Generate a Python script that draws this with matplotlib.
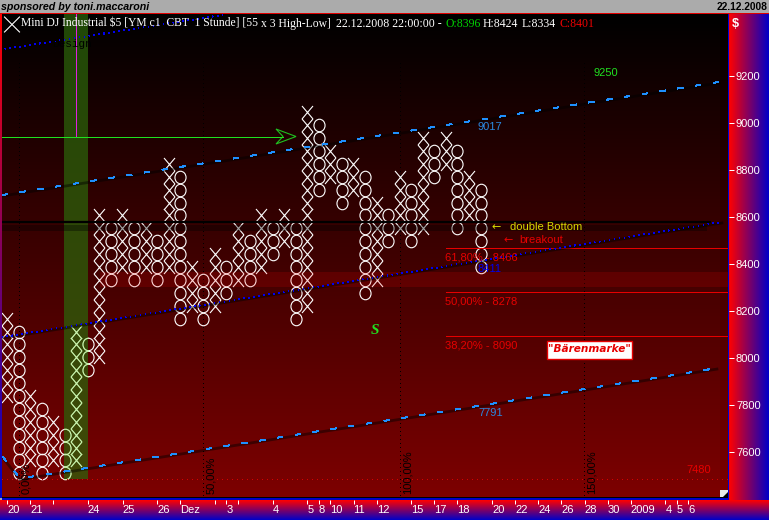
import numpy as np
import matplotlib
matplotlib.use('Agg')
import matplotlib.pyplot as plt
from matplotlib.colors import LinearSegmentedColormap
from matplotlib.patches import Rectangle, Polygon
from matplotlib.path import Path
from matplotlib.transforms import Affine2D

# point & figure columns, X and O take turns, prices are box centres
first_is_x = True
col_low = [7833, 7503, 7558, 7503, 7558, 7503, 7558, 7943, 7998, 8328, 8383, 8328, 8383, 8328,
           8383, 8163, 8218, 8163, 8218, 8273, 8328, 8328, 8383, 8438, 8493, 8163, 8218, 8713,
           8768, 8658, 8713, 8273, 8328, 8493, 8548, 8493, 8548, 8768, 8823, 8548, 8603, 8383]
col_high = [8163, 8108, 7833, 7778, 7723, 7668, 8108, 8053, 8603, 8548, 8603, 8548, 8548, 8493,
            8823, 8768, 8383, 8328, 8438, 8383, 8548, 8493, 8603, 8548, 8603, 8548, 9043, 8988,
            8878, 8823, 8823, 8768, 8658, 8603, 8768, 8713, 8933, 8878, 8933, 8878, 8768, 8713]
box_size = 55

price_ticks = [7600, 7800, 8000, 8200, 8400, 8600, 8800, 9000, 9200]
date_cols = [0, 2, 4, 7, 10, 13, 15, 18, 19, 20, 23, 26, 27, 28, 30, 32, 35, 37, 39, 42, 44, 46, 48,
             50, 52, 54, 57, 58, 59]
date_labels = ['20', '21', '', '24', '25', '26', 'Dez', '', '3', '', '4', '5', '8', '10', '11', '12',
               '15', '17', '18', '20', '22', '24', '26', '28', '30', '2009', '4', '5', '6']

# trend lines as [col, col], [price, price]
upper_x, upper_y = [-0.43, 61.65], [8690, 9172]
lower_x, lower_y = [-0.35, 1.13, 61.47], [7573, 7481, 7952]
mid_x, mid_y = [-0.43, 61.9], [8084, 8575]
top_x, top_y = [-0.17, 18.7], [9313, 9458]

fib_levels = [8466, 8278, 8090]
fib_labels = ['61,80% - 8466', '50,00% - 8278', '38,20% - 8090']
double_bottom = 8575
low_price = 7480
band_low, band_high = 8298, 8362
time_cols = [1, 17, 34, 50]
time_labels = ['0,00%', '50,00%', '100,00%', '150,00%']

W, H = 769, 520
fig = plt.figure(figsize=(W / 100, H / 100), dpi=100, facecolor='#ababab')


def box(l, t, r, b):
    return [l / W, 1 - b / H, (r - l) / W, (b - t) / H]


xlim = (-0.433, 62.43)
ylim = (7398, 9462)

# colour bands round the chart
edge = LinearSegmentedColormap.from_list('edge', ['#ff0000', '#0000c8'])
ax_r = fig.add_axes(box(729, 14, 769, 500))
ax_r.imshow(np.linspace(0, 1, 100).reshape(1, -1), cmap=edge, aspect='auto',
            extent=(0, 1, ylim[0], ylim[1]))
ax_r.set_xticks([])
ax_r.set_ylim(ylim)
ax_r.set_yticks(price_ticks)
ax_r.tick_params(axis='y', direction='in', length=3.6, width=0.72, color='white', labelcolor='white',
                 labelsize=8, pad=-5)
for lab in ax_r.get_yticklabels():
    lab.set_ha('left')
    lab.set_family('Liberation Sans')

ax_b = fig.add_axes(box(0, 500, 769, 520))
ax_b.imshow(np.linspace(0, 1, 50).reshape(-1, 1), cmap=edge, aspect='auto', extent=(-1, 70, 0, 1))
ax_b.set_yticks([])
ax_b.set_xlim(-0.433 - 2 / 11.55, (769 - 7) / 11.55)
ax_b.set_xticks(date_cols)
ax_b.set_xticklabels(date_labels, ha='left', family='Liberation Sans')
ax_b.tick_params(axis='x', direction='in', top=True, bottom=False, length=3, width=0.72,
                 color='white', labelcolor='white', labelsize=8, pad=-10.5)

ax_l = fig.add_axes(box(0, 14, 2, 498))
ax_l.imshow(np.linspace(0, 1, 100).reshape(-1, 1), cmap=edge, aspect='auto')
ax_l.axis('off')

for a in [ax_r, ax_b]:
    for s in a.spines.values():
        s.set_visible(False)

# main chart
ax = fig.add_axes(box(2, 14, 728, 498))
bg = LinearSegmentedColormap.from_list('bg', ['#000000', '#7d0000'])
ax.imshow(np.linspace(0, 1, 484).reshape(-1, 1), cmap=bg, aspect='auto',
          extent=(xlim[0], xlim[1], ylim[0], ylim[1]), zorder=0)
ax.set_xlim(xlim)
ax.set_ylim(ylim)
ax.set_xticks([])
ax.set_yticks([])
for s in ax.spines.values():
    s.set_visible(False)

x_path = Path([(-5.5, -6.5), (5.5, 6.5), (-5.5, 6.5), (5.5, -6.5)],
              [Path.MOVETO, Path.LINETO, Path.MOVETO, Path.LINETO])
o_path = Affine2D().scale(5.5, 6.2).transform_path(Path.unit_circle())

# green highlighted column
green = Rectangle((4.94, low_price), 2.07, ylim[1] - low_price, facecolor=(44 / 255, 100 / 255, 10 / 255),
                  alpha=0.73, edgecolor='none', zorder=3)
ax.add_patch(green)
pale_clip = Rectangle((4.94, low_price), 2.07, ylim[1] - low_price, transform=ax.transData)

for i in range(len(col_low)):
    rows = np.arange(col_low[i], col_high[i] + 1, box_size)
    is_x = (i % 2 == 0) == first_is_x
    marker = x_path if is_x else o_path
    size = 9.36 if is_x else 9.0
    ax.plot([i] * len(rows), rows, linestyle='None', marker=marker, markersize=size, markerfacecolor='none',
            markeredgecolor='white', markeredgewidth=0.8, zorder=2, antialiased=False)
    if 4 <= i <= 7:
        # marks inside the green stripe look pale green
        pale = ax.plot([i] * len(rows), rows, linestyle='None', marker=marker, markersize=size,
                       markerfacecolor='none', markeredgecolor='#cdf5ae', markeredgewidth=0.8, zorder=4,
                       antialiased=False)[0]
        pale.set_clip_path(pale_clip)

# dark red price band
ax.axhspan(band_low, band_high, xmin=(8.05 - xlim[0]) / (xlim[1] - xlim[0]), facecolor='red', alpha=0.15,
           edgecolor='none', zorder=5)

# dotted time lines
for c, lab in zip(time_cols, time_labels):
    ax.plot([c, c], [7410, 9260], color='black', lw=0.72, linestyle=(0, (1, 3)), zorder=1, antialiased=False)
    ax.text(c + 0.22, 7415, lab, rotation=90, ha='left', va='bottom', fontsize=8, color='black',
            family='Liberation Sans', zorder=6)

# double bottom line with shadow
ax.plot([xlim[0], 61.0], [double_bottom, double_bottom], color='black', lw=1.6, zorder=7, solid_capstyle='butt')
ax.fill_between([xlim[0], 60.6], double_bottom - 38, double_bottom - 12, color='black', alpha=0.35, lw=0, zorder=6)

# fibonacci lines
for lev in fib_levels:
    ax.plot([38.0, xlim[1]], [lev, lev], color='#e60000', lw=0.6, zorder=5, antialiased=False)
ax.plot([xlim[0], xlim[1]], [low_price, low_price], color='#d80000', lw=0.6, linestyle=(0, (1, 5)), zorder=5,
        antialiased=False)

# channels
shadow = dict(color='black', alpha=0.45, lw=2.0, zorder=5, transform=ax.transData + Affine2D().translate(0, -1))
ax.plot(upper_x, upper_y, **shadow)
ax.plot(lower_x, lower_y, **shadow)
ax.plot(mid_x, mid_y, **shadow)
dash = dict(color='#1e90ff', lw=0.6, linestyle=(0, (7, 15)), zorder=6, antialiased=False)
ax.plot(upper_x, upper_y, **dash)
ax.plot(lower_x, lower_y, **dash)
dots = dict(color='#0000f0', lw=0.72, linestyle=(0, (1, 4.2)), zorder=6, antialiased=False)
ax.plot(mid_x, mid_y, **dots)
ax.plot(top_x, top_y, **dots)

# overlay in pixels for annotations
ov = fig.add_axes([0, 0, 1, 1], facecolor='none', zorder=10)
ov.set_xlim(0, W)
ov.set_ylim(H, 0)
ov.axis('off')

ov.add_patch(Rectangle((0, 13), W, 1.2, facecolor='#e00000', edgecolor='none'))
ov.add_patch(Rectangle((2, 497), 727, 1.4, facecolor='black', edgecolor='none'))
ov.add_patch(Rectangle((2, 498.4), 727, 1.6, facecolor='#0000c8', edgecolor='none'))
ov.add_patch(Rectangle((727.6, 14), 1.4, 484, facecolor='#0000d8', edgecolor='none'))
ov.add_patch(Rectangle((720, 490), 7.5, 7, facecolor='#e8e8e8', edgecolor='none'))
ov.add_patch(Polygon([(727.5, 492), (727.5, 497), (722.5, 497)], closed=True, facecolor='black', edgecolor='none'))

# magenta marker and green arrow
ov.plot([75.5, 75.5], [14, 136], color='#e020e0', lw=0.6, antialiased=False)
ov.plot([2, 283], [136.5, 136.5], color='#20e020', lw=0.72, antialiased=False)
ov.add_patch(Polygon([(276, 129), (296, 136.5), (276, 144), (283, 136.5)], closed=True, facecolor='none',
                     edgecolor='#20c020', lw=0.8))
ov.plot([4.5, 19.5], [17, 32], color='white', lw=0.8)
ov.plot([4.5, 19.5], [32, 17], color='white', lw=0.8)

serif = 'Liberation Serif'
sans = 'Liberation Sans'
title_y = 24
ov.text(21, title_y, 'Mini DJ Industrial $5 [YM c1  CBT  1 Stunde] [55', color='white', fontsize=8.4, family=serif,
        va='center')
ov.text(261, title_y, 'x 3 High-Low]', color='white', fontsize=8.4, family=serif, va='center')
ov.text(336, title_y, '22.12.2008 22:00:00 -', color='white', fontsize=8.6, family=serif, va='center')
ov.text(445, title_y, 'O:8396', color='#00d000', fontsize=8.5, family=serif, va='center')
ov.text(483, title_y, 'H:8424', color='white', fontsize=8.5, family=serif, va='center')
ov.text(522, title_y, 'L:8334', color='white', fontsize=8.5, family=serif, va='center')
ov.text(560, title_y, 'C:8401', color='#f00000', fontsize=8.5, family=serif, va='center')
ov.text(52, 44, 'Design', color='black', fontsize=8, family='Liberation Mono', va='center')

ov.text(1, 7, 'sponsored by toni.maccaroni', color='black', fontsize=7.7, family=sans,
        weight='bold', style='italic', va='center')
ov.text(717, 7, '22.12.2008', color='black', fontsize=7.4, family=sans, weight='bold', va='center')
ov.text(732, 24, '$', color='white', fontsize=9, family=sans, weight='bold', va='center')

for lab, y in zip(fib_labels, [257, 301, 345]):
    ov.text(445, y, lab, color='#e60000', fontsize=8, family=sans, va='center')
ov.text(492, 227, '\u2190', color='#d8d800', fontsize=8, family='DejaVu Sans', va='center')
ov.text(510, 227, 'double Bottom', color='#d8d800', fontsize=8, family=sans, va='center')
ov.text(503, 240, '\u2190', color='#e60000', fontsize=8, family='DejaVu Sans', va='center')
ov.text(519, 240, 'breakout', color='#e60000', fontsize=8, family=sans, va='center')

ov.text(594, 73, '9250', color='#20e020', fontsize=8, family=sans, va='center')
ov.text(478, 127, '9017', color='#2a88e0', fontsize=8, family=sans, va='center')
ov.text(478, 269, '8411', color='#0000f0', fontsize=8, family=sans, va='center')
ov.text(478, 413, '7791', color='#2a88e0', fontsize=8, family=sans, va='center')
ov.text(686, 470, '7480', color='#e60000', fontsize=8, family=sans, va='center')
ov.text(375, 331, 'S', color='#20e020', fontsize=11, family=serif, weight='bold', style='italic',
        ha='center', va='center')

ov.add_patch(Rectangle((546.5, 340.5), 85, 18, facecolor='white', edgecolor='#e60000', lw=1.0))
ov.text(589, 349.5, '"B\u00e4renmarke"', color='#e60000', fontsize=7.6, family='DejaVu Sans', weight='bold',
        style='italic', ha='center', va='center')

fig.savefig('out.png', dpi=100, facecolor=fig.get_facecolor())
